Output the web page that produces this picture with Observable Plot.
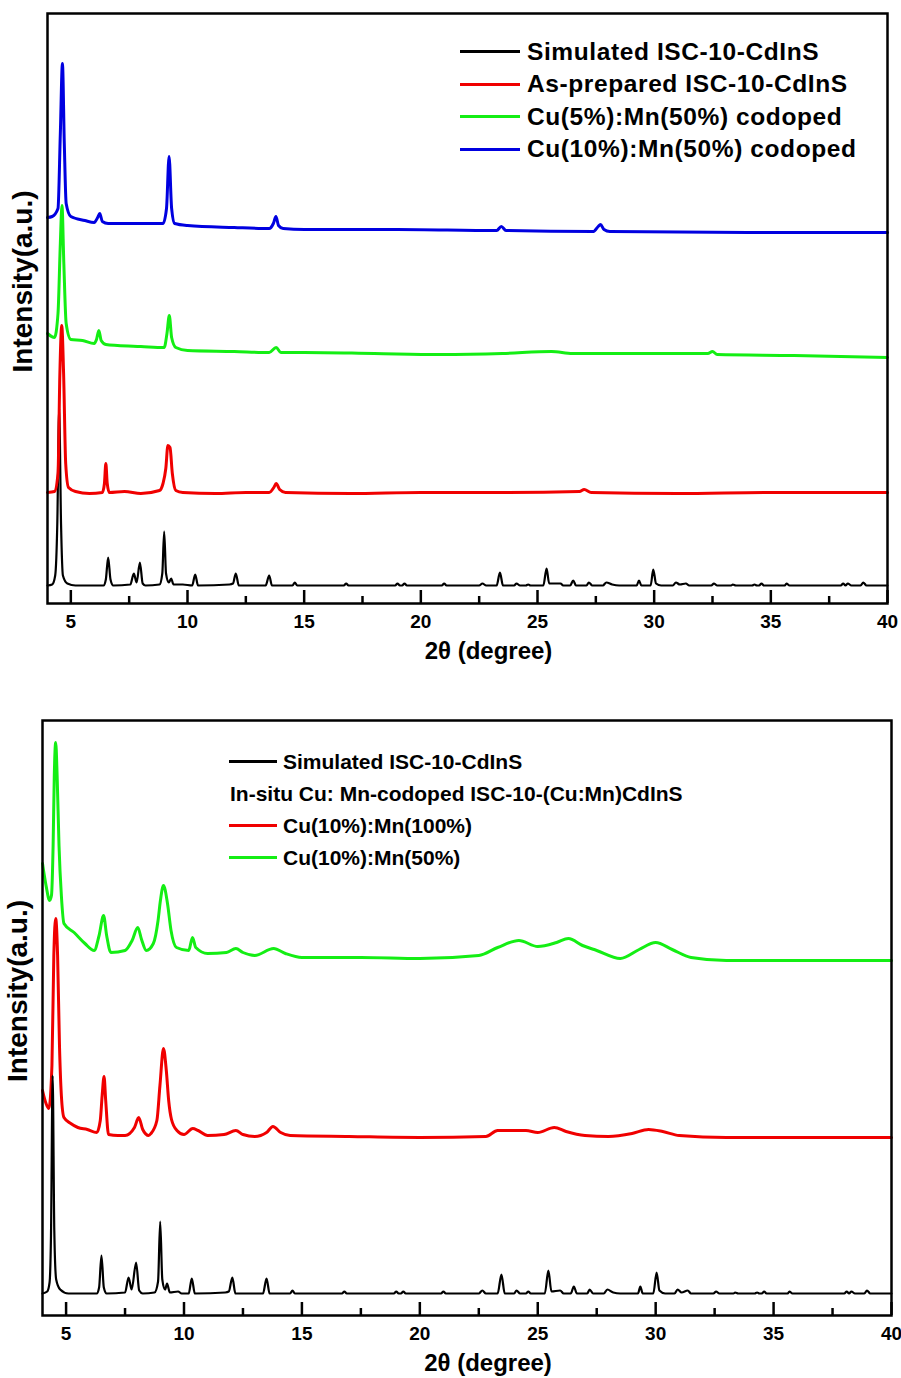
<!DOCTYPE html>
<html>
<head>
<meta charset="utf-8">
<script src="https://cdn.jsdelivr.net/npm/d3@7"></script>
<script src="https://cdn.jsdelivr.net/npm/@observablehq/plot@0.6"></script>
<style>
  body { margin: 0; background: #fff; font-family: "Liberation Sans", Arial, sans-serif; }
  .panel { position: relative; width: 901px; }
  .legend { position: absolute; font-weight: bold; color: #000; }
  .legend .row { position: absolute; white-space: nowrap; display: flex; align-items: center; }
  .legend .sw { display: inline-block; height: 3px; margin-right: 7px; }
</style>
</head>
<body>
<div id="top" class="panel" style="height:700px"></div>
<div id="bottom" class="panel" style="height:678px"></div>
<script>
// ---------- data (2θ in degrees, intensity in a.u. incl. vertical offset) ----------
const xDomain = [4, 40];
const majorTicks = [5, 10, 15, 20, 25, 30, 35, 40];
const minorTicks = [7.5, 12.5, 17.5, 22.5, 27.5, 32.5, 37.5];
const xTitle = "2θ (degree)";
const yTitle = "Intensity(a.u.)";

// top panel
const topSimulated = [[4.0,18],[4.2,19],[4.33,28],[4.42,80],[4.5,195],[4.58,80],[4.66,28],[4.85,20],[5.2,18],
 [6.4,18],[6.5,24],[6.6,46],[6.7,24],[6.82,18],[7.55,19],[7.7,30],[7.82,21],[7.96,41],[8.08,20],[8.2,18],
 [8.8,19],[8.92,30],[9.0,72],[9.08,30],[9.2,21],[9.3,25],[9.4,19],[9.8,19],[10.2,18],[10.33,29],[10.45,18],
 [11.8,19],[11.95,20],[12.07,30],[12.2,18],[13.35,18],[13.5,28],[13.62,18],[14.5,18],[14.6,21],[14.7,18],
 [16.7,18],[16.8,20],[16.9,18],[18.9,18],[19.0,20],[19.1,18],[19.2,18],[19.3,20],[19.4,18],[20.9,18],[21.0,20],[21.1,18],
 [22.5,18],[22.64,20],[22.8,18],[23.25,18],[23.39,31],[23.52,18],[24.0,18],[24.1,20],[24.25,18],[24.5,18],[24.6,19],[24.7,18],
 [25.25,18],[25.39,35],[25.5,20],[25.99,20],[26.1,18],[26.4,18],[26.53,23],[26.65,18],[27.1,18],[27.2,21],[27.35,18],
 [27.8,18],[27.95,21],[28.2,19],[28.5,18],[29.25,18],[29.35,23],[29.45,18],[29.85,18],[29.96,34],[30.08,20],[30.3,18],
 [30.8,18],[30.93,21],[31.1,19],[31.36,20],[31.5,18],[32.45,18],[32.56,20],[32.7,18],[33.3,18],[33.37,19],[33.5,18],
 [34.2,18],[34.3,19],[34.4,18],[34.5,18],[34.6,20],[34.7,18],[35.6,18],[35.67,20],[35.8,18],[38.0,18],[38.1,20],[38.2,18],
 [38.3,20],[38.45,18],[38.85,18],[38.96,21],[39.1,18],[40,18]];
const topAsPrepared = [[4.0,111],[4.3,112],[4.45,130],[4.53,230],[4.61,278],[4.69,230],[4.78,140],[4.9,116],[5.2,112],
 [5.8,110],[6.35,111],[6.44,120],[6.5,140],[6.56,120],[6.65,111],[7.3,112],[8.0,110],[8.8,113],[8.95,120],[9.07,135],[9.16,158],[9.25,156],[9.35,130],
 [9.5,113],[9.8,111],[11.2,110],[12.5,111],[13.5,111],[13.7,116],[13.8,120],[13.95,114],[14.2,111],[17,110],[20,111],[23,111],[26.8,112],[27.0,114],[27.3,111],[31,110],[35,111],[40,111]];
const topCu5Mn50 = [[4.0,270],[4.3,266],[4.45,290],[4.55,360],[4.62,398],[4.7,340],[4.8,280],[5.0,264],[5.5,263],[6.0,260],[6.1,264],
 [6.2,273],[6.3,263],[6.5,259],[7.0,258],[8.0,257],[9.0,256],[9.12,270],[9.22,288],[9.32,266],[9.5,256],[10,253],[12,252],[13.5,251],[13.8,256],
 [14.0,251],[15,251],[18,250],[20.8,249],[23.5,250],[25.6,252],[26.5,250],[27,250],[30,250],[32.3,250],[32.5,252],[32.7,249],[36,248],[40,246]];
const topCu10Mn50 = [[4.0,386],[4.2,387],[4.45,395],[4.55,470],[4.64,540],[4.72,460],[4.8,400],[5.0,387],[5.6,383],[6.0,381],
 [6.15,386],[6.24,390],[6.35,382],[6.6,380],[8.0,380],[8.95,380],[9.1,395],[9.21,447],[9.32,395],[9.45,380],[10,378],[12,376],[13.5,375],
 [13.68,380],[13.79,387],[13.9,378],[14.1,375],[15,374],[19,374],[23.25,373],[23.45,377],[23.65,373],[27.4,372],[27.6,377],
 [27.7,379],[27.85,374],[28.1,372],[34,371],[40,371]];

// bottom panel
const bottomSimulated = [[4.0,22],[4.2,24],[4.3,33],[4.36,80],[4.43,240],[4.5,85],[4.58,36],[4.75,26],[5.1,22],
 [6.3,22],[6.4,28],[6.5,60],[6.6,28],[6.72,22],[7.5,23],[7.65,38],[7.78,26],[7.97,53],[8.1,25],[8.25,22],
 [8.75,23],[8.9,34],[8.99,94],[9.08,36],[9.2,26],[9.28,32],[9.4,23],[9.75,24],[9.9,22],[10.2,22],[10.33,37],[10.46,22],
 [11.75,23],[11.9,24],[12.05,38],[12.18,22],[13.35,22],[13.5,37],[13.63,22],[14.5,22],[14.6,25],[14.7,22],
 [16.7,22],[16.8,24],[16.9,22],[18.9,22],[19.0,24],[19.1,22],[19.2,22],[19.3,24],[19.4,22],[20.9,22],[21.0,24],[21.1,22],
 [22.5,22],[22.65,25],[22.8,22],[23.3,22],[23.46,41],[23.6,22],[24.0,22],[24.1,25],[24.25,22],[24.5,22],[24.6,24],[24.7,22],
 [25.3,22],[25.45,45],[25.58,24],[25.95,25],[26.1,22],[26.4,22],[26.53,29],[26.66,22],[27.1,22],[27.2,26],[27.35,22],
 [27.8,22],[27.95,26],[28.2,23],[28.5,22],[29.25,22],[29.35,29],[29.45,22],[29.9,22],[30.04,43],[30.16,25],[30.4,22],
 [30.8,22],[30.93,26],[31.1,23],[31.36,25],[31.5,22],[32.45,22],[32.56,24],[32.7,22],[33.3,22],[33.37,23],[33.5,22],
 [34.2,22],[34.3,23],[34.4,22],[34.5,22],[34.6,24],[34.7,22],[35.6,22],[35.67,24],[35.8,22],[38.0,22],[38.1,24],[38.2,22],
 [38.3,24],[38.45,22],[38.85,22],[38.96,25],[39.1,22],[40,22]];
const bottomCu10Mn100 = [[4.0,225],[4.15,212],[4.27,207],[4.4,250],[4.48,360],[4.56,397],[4.64,360],[4.72,270],[4.8,220],
 [4.91,198],[5.2,192],[5.5,188],[5.9,186],[6.3,183],[6.45,195],[6.53,220],[6.61,239],[6.68,215],[6.8,181],[7.2,180],[7.5,180],[7.9,188],[8.08,198],
 [8.25,186],[8.5,180],[8.6,182],[8.85,195],[8.98,230],[9.13,267],[9.25,245],[9.35,215],[9.47,196],[9.7,185],[10,181],
 [10.37,187],[10.6,185],[11,180],[11.7,181],[12.2,185],[12.5,181],[13,179],[13.5,183],[13.77,189],[14.1,183],[14.5,180],[17,179],[20,178],
 [22.8,179],[23.3,185],[23.9,185],[24.5,185],[25.0,183],[25.7,188],[26.2,184],[27,180],[28,179],[29.0,182],[29.7,186],[30.3,184],
 [31,180],[33,178],[36,178],[40,178]];
const bottomCu10Mn50 = [[4.0,452],[4.15,430],[4.3,415],[4.38,420],[4.45,470],[4.5,540],[4.56,573],[4.62,540],[4.7,470],
 [4.8,420],[4.91,392],[5.34,383],[5.8,372],[6.19,365],[6.4,380],[6.59,400],[6.72,380],[6.9,363],[7.5,365],[7.8,375],
 [8.04,388],[8.2,376],[8.4,365],[8.7,372],[8.9,395],[9.0,415],[9.13,430],[9.3,412],[9.45,385],[9.68,368],[10.2,365],
 [10.36,378],[10.5,368],[11,362],[11.8,363],[12.2,367],[12.5,363],[13.0,360],[13.8,367],[14.3,362],[15,358],[17.5,358],[20,357],
 [22.5,360],[23.3,368],[24.2,375],[25.0,369],[25.8,373],[26.3,377],[26.9,370],[27.5,365],[28.5,357],[29.3,366],[30.0,373],
 [30.7,366],[31.5,358],[33,355],[36.5,355],[40,355]];

const topSeries = [
  {name: "Simulated ISC-10-CdInS", color: "#000000", data: topSimulated, width: 2.2},
  {name: "As-prepared ISC-10-CdInS", color: "#f00000", data: topAsPrepared, width: 3},
  {name: "Cu(5%):Mn(50%) codoped", color: "#14ee14", data: topCu5Mn50, width: 3},
  {name: "Cu(10%):Mn(50%) codoped", color: "#0000e0", data: topCu10Mn50, width: 3}
];
const bottomSeries = [
  {name: "Cu(10%):Mn(100%)", color: "#f00000", data: bottomCu10Mn100, width: 3},
  {name: "Cu(10%):Mn(50%)", color: "#14ee14", data: bottomCu10Mn50, width: 3},
  {name: "Simulated ISC-10-CdInS", color: "#000000", data: bottomSimulated, width: 2.2}
];
const topLegend = [
  {label: "Simulated ISC-10-CdInS", color: "#000000"},
  {label: "As-prepared ISC-10-CdInS", color: "#f00000"},
  {label: "Cu(5%):Mn(50%) codoped", color: "#14ee14"},
  {label: "Cu(10%):Mn(50%) codoped", color: "#0000e0"}
];
const bottomLegend = [
  {label: "Simulated ISC-10-CdInS", color: "#000000"},
  {label: "In-situ Cu: Mn-codoped ISC-10-(Cu:Mn)CdInS", color: null},
  {label: "Cu(10%):Mn(100%)", color: "#f00000"},
  {label: "Cu(10%):Mn(50%)", color: "#14ee14"}
];

const FONT = "'Liberation Sans', Arial, sans-serif";

function panel({series, yDomain, height, marginLeft, marginRight, marginTop, marginBottom}) {
  const innerH = height - marginTop - marginBottom;
  const marks = [];
  for (const s of series) {
    marks.push(Plot.line(s.data, {x: d => d[0], y: d => d[1], stroke: s.color, strokeWidth: s.width, strokeLinejoin: "round", curve: "monotone-x"}));
  }
  marks.push(
    Plot.tickX(majorTicks, {x: d => d, stroke: "black", strokeWidth: 2.5, insetTop: innerH - 13}),
    Plot.tickX(minorTicks, {x: d => d, stroke: "black", strokeWidth: 2.5, insetTop: innerH - 7}),
    Plot.axisX({ticks: majorTicks, tickSize: 0, tickPadding: 11, label: null, fontSize: 19, fontWeight: "bold", tickFormat: d => String(d)}),
    Plot.frame({stroke: "black", strokeWidth: 2.5}),
    Plot.text([xTitle], {frameAnchor: "bottom", lineAnchor: "middle", dy: 48, dx: 21, fontSize: 24, fontWeight: "bold", fill: "black"}),
    Plot.text([yTitle], {frameAnchor: "left", textAnchor: "middle", lineAnchor: "middle", rotate: -90, dx: -24, dy: -27, fontSize: 28, fontWeight: "bold", fill: "black"})
  );
  return Plot.plot({
    width: 901, height, marginLeft, marginRight, marginTop, marginBottom,
    style: {fontFamily: FONT, color: "black", background: "white", overflow: "visible"},
    x: {domain: xDomain},
    y: {domain: yDomain, axis: null},
    marks
  });
}

function legend(container, items, {left, lineLen, textLeft, top, step, fontSize, spacing, plainLeft}) {
  const div = document.createElement("div");
  div.className = "legend";
  div.style.left = "0px"; div.style.top = "0px";
  div.style.fontSize = fontSize + "px";
  div.style.letterSpacing = spacing + "px";
  items.forEach((it, i) => {
    const row = document.createElement("div");
    row.className = "row";
    row.style.top = (top + i * step - fontSize * 0.6) + "px";
    row.style.height = (fontSize * 1.2) + "px";
    if (it.color) {
      row.style.left = left + "px";
      const sw = document.createElement("span");
      sw.className = "sw";
      sw.style.width = lineLen + "px";
      sw.style.background = it.color;
      sw.style.marginRight = (textLeft - left - lineLen) + "px";
      row.appendChild(sw);
    } else {
      row.style.left = plainLeft + "px";
    }
    const t = document.createElement("span");
    t.textContent = it.label;
    row.appendChild(t);
    div.appendChild(row);
  });
  container.appendChild(div);
}

const topEl = document.getElementById("top");
topEl.appendChild(panel({series: topSeries, yDomain: [0, 590], height: 670, marginLeft: 47, marginRight: 14, marginTop: 13, marginBottom: 67}));
legend(topEl, topLegend, {left: 460, lineLen: 60, textLeft: 527, top: 52, step: 32.5, fontSize: 24.5, spacing: 0.6, plainLeft: 460});

const botEl = document.getElementById("bottom");
botEl.appendChild(panel({series: bottomSeries, yDomain: [0, 595], height: 678, marginLeft: 42, marginRight: 10, marginTop: 20, marginBottom: 63}));
legend(botEl, bottomLegend, {left: 229, lineLen: 48, textLeft: 283, top: 62, step: 32, fontSize: 21, spacing: 0, plainLeft: 230});
</script>
</body>
</html>
